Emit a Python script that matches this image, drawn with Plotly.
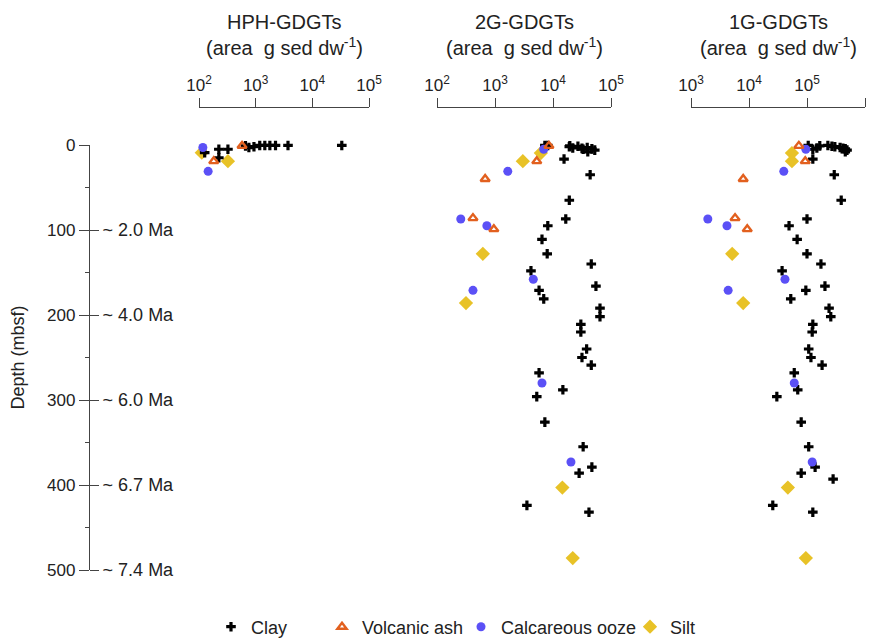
import plotly.graph_objects as go

# ---- data -------------------------------------------------------------
# Depths (mbsf) of samples, by lithology (shared by the 2G and 1G panels)
clay_depth = [0.5, 0.5, 1, 1.5, 2, 3, 3.5, 4, 4.5, 5, 6, 8,
              16.5, 35, 65, 87, 95, 111, 128, 140, 148, 166, 171, 181, 192,
              202, 211, 220, 240, 250, 259, 268, 288, 296, 326, 355, 379,
              386, 393, 424, 432]
ash_depth = [1, 19, 40, 86, 99]
ooze_depth = [5, 31, 87, 95, 158, 171, 280, 373]
silt_depth = [9.5, 19, 128, 186, 403, 486]

# 2G-GDGTs (area g sed dw-1)
g2_clay = [7240, 8130, 19500, 26900, 19100, 38900, 21900, 31600, 46800,
           33100, 52500, 39800,
           15500, 43700, 19100, 16600, 8130, 6460, 7940, 45700, 4170, 55000,
           5750, 6920, 64600, 64600, 30200, 30200, 38000, 31600, 45700,
           5750, 14800, 5250, 7240, 33100, 46800, 28200, 117000, 3550, 41700]
g2_ash = [8510, 5250, 676, 417, 955]
g2_ooze = [6920, 1660, 257, 724, 4570, 417, 6460, 20400]
g2_silt = [6170, 3020, 617, 316, 14500, 21900]

# 1G-GDGTs (area g sed dw-1)
g1_clay = [105000, 229000, 166000, 269000, 302000, 372000, 148000, 417000,
           457000, 126000, 490000, 457000,
           126000, 295000, 389000, 100000, 49000, 67600, 100000, 174000,
           37200, 204000, 95500, 52500, 240000, 257000, 126000, 123000,
           107000, 117000, 182000, 60300, 69200, 30200, 79400, 107000,
           138000, 79400, 282000, 25700, 126000]
g1_ash = [72400, 93300, 7940, 5750, 9330]
g1_ooze = [95500, 39800, 1950, 4170, 41700, 4370, 60300, 123000]
g1_silt = [55000, 55000, 5130, 7940, 46800, 95500]

# HPH-GDGTs (area g sed dw-1), shallow samples only
hph_clay_depth = [9, 5, 5, 15, 1, 3, 2, 0.5, 0.5, 0.5, 0.5, 0.5, 0.5]
hph_clay = [126, 224, 324, 224, 661, 759, 933, 1180, 1450, 1780, 2240,
            3720, 33100]
hph_ash_depth = [1, 19]
hph_ash = [575, 182]
hph_ooze_depth = [3, 31]
hph_ooze = [117, 145]
hph_silt_depth = [9, 19]
hph_silt = [112, 324]

panel_titles = ["HPH-GDGTs", "2G-GDGTs", "1G-GDGTs"]
unit_label = "(area\u00a0\u00a0g sed dw<sup>-1</sup>)"
depth_ticks = [0, 100, 200, 300, 400, 500]
age_ticks = [100, 200, 300, 400, 500]
age_labels = ["~ 2.0 Ma", "~ 4.0 Ma", "~ 6.0 Ma", "~ 6.7 Ma", "~ 7.4 Ma"]

# ---- figure geometry (pixels) ----------------------------------------
W, H = 875, 639
FONT = "Liberation Sans, Arial, sans-serif"
AX = "#444444"
TXT = "#222222"


def px(x):
    return x / W


def py(y):
    return 1 - y / H


lith = {
    "Clay": dict(symbol="cross", color="black", size=8, line=dict(width=0)),
    "Volcanic ash": dict(symbol="triangle-up-open", color="#E2601F", size=8,
                         line=dict(width=2.4, color="#E2601F")),
    "Calcareous ooze": dict(symbol="circle", color="#5B50F6", size=9,
                            line=dict(width=0)),
    "Silt": dict(symbol="diamond", color="#E8C227", size=11,
                 line=dict(width=0)),
}
legend_of = {"Clay": "legend", "Volcanic ash": "legend2",
             "Calcareous ooze": "legend3", "Silt": "legend4"}

panels = [
    ("x", {"Silt": (hph_silt_depth, hph_silt),
           "Clay": (hph_clay_depth, hph_clay),
           "Calcareous ooze": (hph_ooze_depth, hph_ooze),
           "Volcanic ash": (hph_ash_depth, hph_ash)}),
    ("x2", {"Silt": (silt_depth, g2_silt),
            "Clay": (clay_depth, g2_clay),
            "Calcareous ooze": (ooze_depth, g2_ooze),
            "Volcanic ash": (ash_depth, g2_ash)}),
    ("x3", {"Silt": (silt_depth, g1_silt),
            "Clay": (clay_depth, g1_clay),
            "Calcareous ooze": (ooze_depth, g1_ooze),
            "Volcanic ash": (ash_depth, g1_ash)}),
]

fig = go.Figure()
for i, (xa, series) in enumerate(panels):
    for name, (d, v) in series.items():
        fig.add_trace(go.Scatter(
            x=v, y=d, mode="markers", name=name,
            xaxis=xa, yaxis="y",
            marker=lith[name],
            cliponaxis=False,
            showlegend=(i == 1),
            legend=legend_of[name],
            hoverinfo="x+y+name",
        ))

# panel x-axes sit above the data on a free position
x_axis_y = py(107)
panel_px = [(199, 369, 2), (437, 611, 2), (691, 865, 3)]
for i, (x0, x1, lo) in enumerate(panel_px):
    key = "xaxis" if i == 0 else f"xaxis{i + 1}"
    vals = [10 ** k for k in range(lo, lo + 4)]
    fig.layout[key] = dict(
        type="log", range=[lo, lo + 3], domain=[px(x0), px(x1)],
        anchor="free", position=x_axis_y, side="top",
        tickmode="array", tickvals=vals,
        ticktext=[f"10<sup>{k}</sup>" for k in range(lo, lo + 4)],
        ticks="outside", ticklen=9, tickwidth=1.3, tickcolor=AX,
        showline=True, linecolor=AX, linewidth=1.3,
        showgrid=False, zeroline=False, automargin=False,
        tickfont=dict(family=FONT, size=17, color=TXT),
    )
    cx = (x0 + x1) / 2
    fig.add_annotation(x=px(cx), y=py(22), xref="paper", yref="paper",
                       xanchor="center", yanchor="middle",
                       text=panel_titles[i], showarrow=False,
                       font=dict(family=FONT, size=20, color=TXT))
    fig.add_annotation(x=px(cx), y=py(47), xref="paper", yref="paper",
                       xanchor="center", yanchor="middle",
                       text=unit_label, showarrow=False,
                       font=dict(family=FONT, size=20, color=TXT))

y_dom = [py(570), py(145)]
fig.update_layout(
    width=W, height=H,
    margin=dict(l=0, r=0, t=0, b=0, autoexpand=False),
    paper_bgcolor="white", plot_bgcolor="white",
    yaxis=dict(
        range=[500, 0], domain=y_dom, anchor="free", position=px(89),
        side="left", tickmode="array", tickvals=depth_ticks,
        ticks="outside", ticklen=10, tickwidth=1.3, tickcolor=AX,
        minor=dict(tickmode="array", tickvals=[50, 150, 250, 350, 450],
                   ticks="outside", ticklen=4, tickwidth=1.3, tickcolor=AX),
        showline=True, linecolor=AX, linewidth=1.3,
        showgrid=False, zeroline=False, automargin=False,
        tickfont=dict(family=FONT, size=17, color=TXT),
    ),
    yaxis2=dict(
        range=[500, 0], domain=y_dom, overlaying="y", anchor="free",
        position=px(89), side="right", tickmode="array",
        tickvals=age_ticks, ticktext=age_labels,
        ticks="outside", ticklen=9, tickwidth=1.3, tickcolor=AX,
        showline=False, showgrid=False, zeroline=False, automargin=False,
        tickfont=dict(family=FONT, size=18, color=TXT),
    ),
    showlegend=True,
)

fig.add_annotation(x=px(17), y=py(357.5), xref="paper", yref="paper",
                   xanchor="center", yanchor="middle",
                   text="Depth (mbsf)", textangle=-90, showarrow=False,
                   font=dict(family=FONT, size=18, color=TXT))

# a dummy trace so the right-hand age axis is drawn
fig.add_trace(go.Scatter(x=[None], y=[None], xaxis="x", yaxis="y2",
                         showlegend=False, hoverinfo="skip"))

# one legend per lithology, each placed at its own marker position
legend_x = {"legend": 232, "legend2": 343, "legend3": 482, "legend4": 651}
for key, mx in legend_x.items():
    fig.layout[key] = dict(
        orientation="h", x=px(mx - 21), y=py(627), xanchor="left",
        yanchor="middle", bgcolor="rgba(0,0,0,0)", borderwidth=0,
        font=dict(family=FONT, size=18, color=TXT), itemwidth=30,
    )

fig.write_html("out.html")
